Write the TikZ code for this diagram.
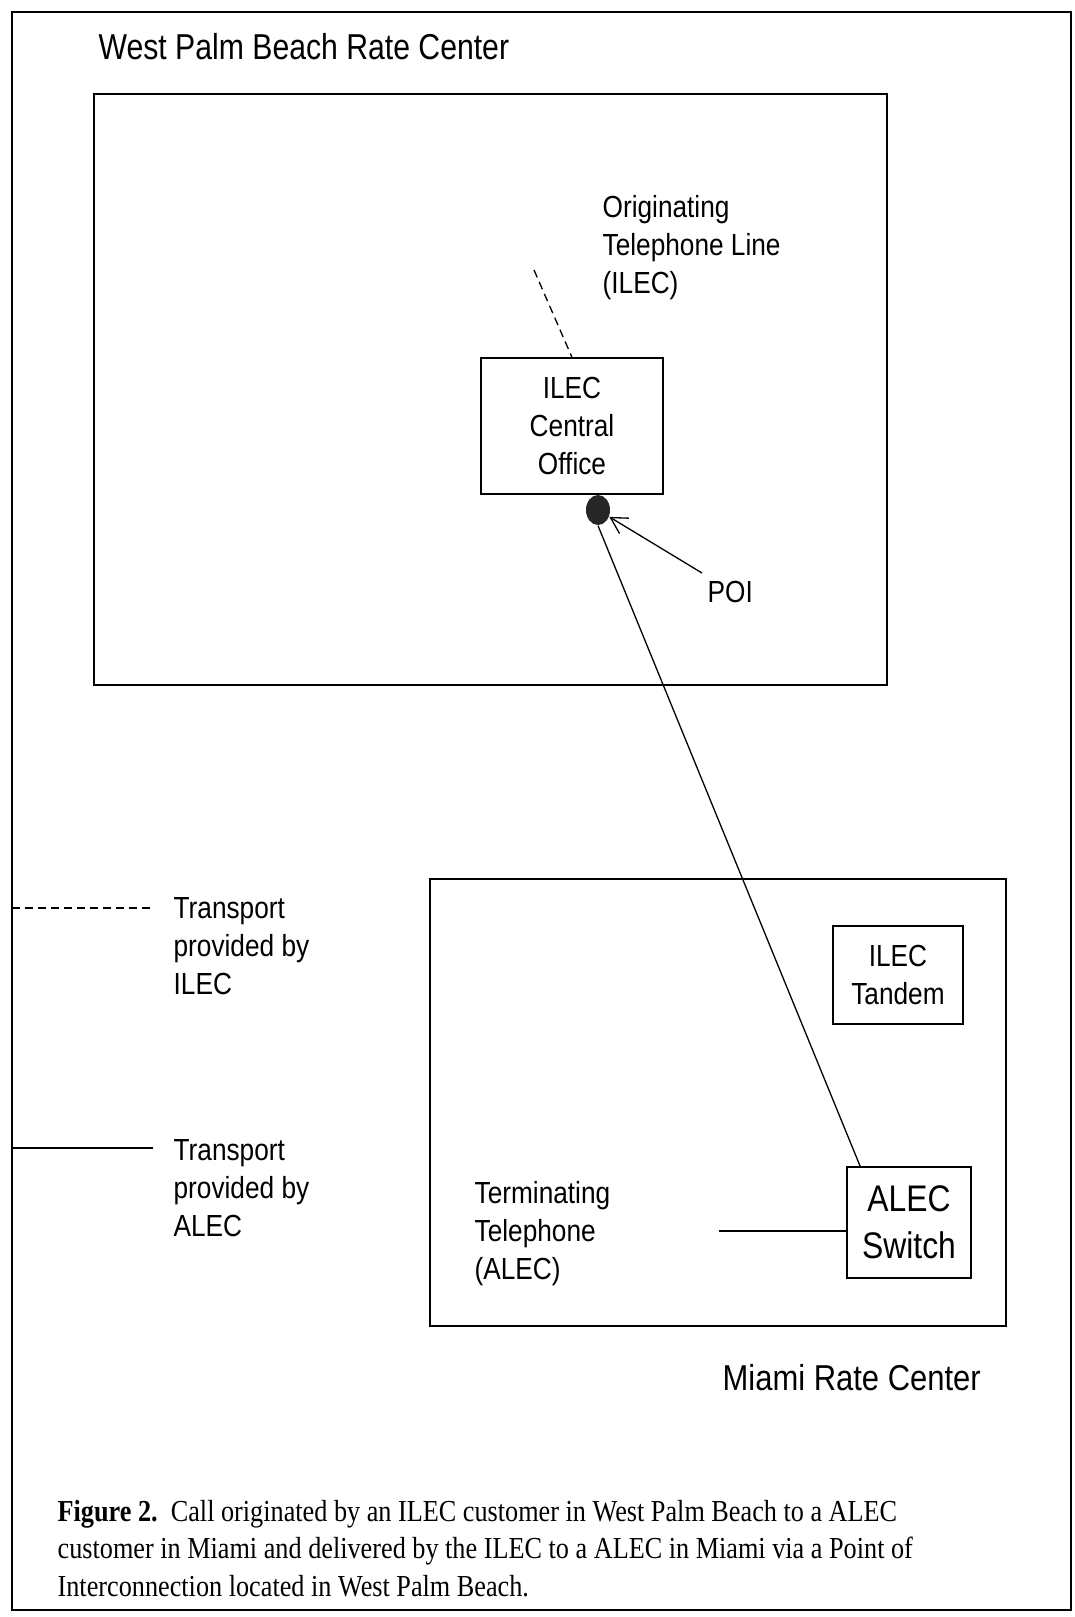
\documentclass[tikz,border=0pt]{standalone}
\usepackage{fontspec}
\setmainfont{Liberation Sans}[FakeStretch=0.86]
\newfontfamily\capfont{Liberation Serif}[FakeStretch=0.86]
\usetikzlibrary{shapes.geometric,arrows.meta}

\begin{document}
\begin{tikzpicture}[x=1pt,y=-1pt,line width=1.3pt,
  box/.style={draw,inner sep=0pt,align=center,font=\fontsize{30.5}{38}\selectfont},
  txt/.style={anchor=base west,inner sep=0pt,align=left,font=\fontsize{30.5}{38}\selectfont},
  rctitle/.style={anchor=base west,inner sep=0pt,font=\fontsize{36}{43}\selectfont},
  link/.style={dash pattern=on 8pt off 5pt}]
\useasboundingbox (0,0) rectangle (1075,1617);
\draw[line width=2.5pt] (12,12) rectangle (1071,1610);

\node[rctitle,xscale=0.975] (wpbname) at (98,59) {West Palm Beach Rate Center};
\node[box,minimum width=793pt,minimum height=591pt] (wpb) at (490.5,389.5) {};

\node[txt] (origtext) at (602,293) {Originating\\Telephone Line\\(ILEC)};
\node[box,minimum width=182pt,minimum height=136pt] (ilecco) at (572,426) {ILEC\\Central\\Office};
\coordinate (origline) at (534,270);
\draw[link] (origline) -- (ilecco.north);

\node[ellipse,fill=black!85,minimum width=24pt,minimum height=30pt,inner sep=0pt] (poi) at (598,510) {};
\node[txt,anchor=west] (poitext) at (707,592) {POI};
\coordinate (poitail) at (702,573);
\draw[-{Straight Barb[length=16pt,width=18pt]}] (poitail) -- (poi);

\node[box,minimum width=576pt,minimum height=447pt] (miami) at (718,1102.5) {};
\node[rctitle] (miaminame) at (722,1390) {Miami Rate Center};
\node[box,minimum width=130pt,minimum height=98pt] (tandem) at (898,975) {ILEC\\Tandem};
\node[box,minimum width=124pt,minimum height=111pt,font=\fontsize{37}{47}\selectfont] (alecsw) at (909,1222.5) {ALEC\\Switch};
\draw (poi.south) -- (alecsw.131);

\node[txt] (termtext) at (474,1279) {Terminating\\Telephone\\(ALEC)};
\coordinate (termline) at (719,1231);
\draw (termline) -- (termline -| alecsw.west);

\coordinate (ileckey) at (12,908);
\coordinate (ileckeyend) at (153,908);
\coordinate (aleckey) at (12,1148);
\coordinate (aleckeyend) at (153,1148);
\draw[link] (ileckey) -- (ileckeyend);
\draw (aleckey) -- (aleckeyend);
\node[txt] (ilectext) at (173,994) {Transport\\provided by\\ILEC};
\node[txt] (alectext) at (173,1236) {Transport\\provided by\\ALEC};

\node[anchor=base west,inner sep=0pt,align=left,font=\capfont\fontsize{30.5}{37.5}\selectfont] (caption) at (57,1596)
  {\textbf{Figure 2.}\ \ Call originated by an ILEC customer in West Palm Beach to a ALEC\\
   customer in Miami and delivered by the ILEC to a ALEC in Miami via a Point of\\
   Interconnection located in West Palm Beach.};
\end{tikzpicture}
\end{document}
